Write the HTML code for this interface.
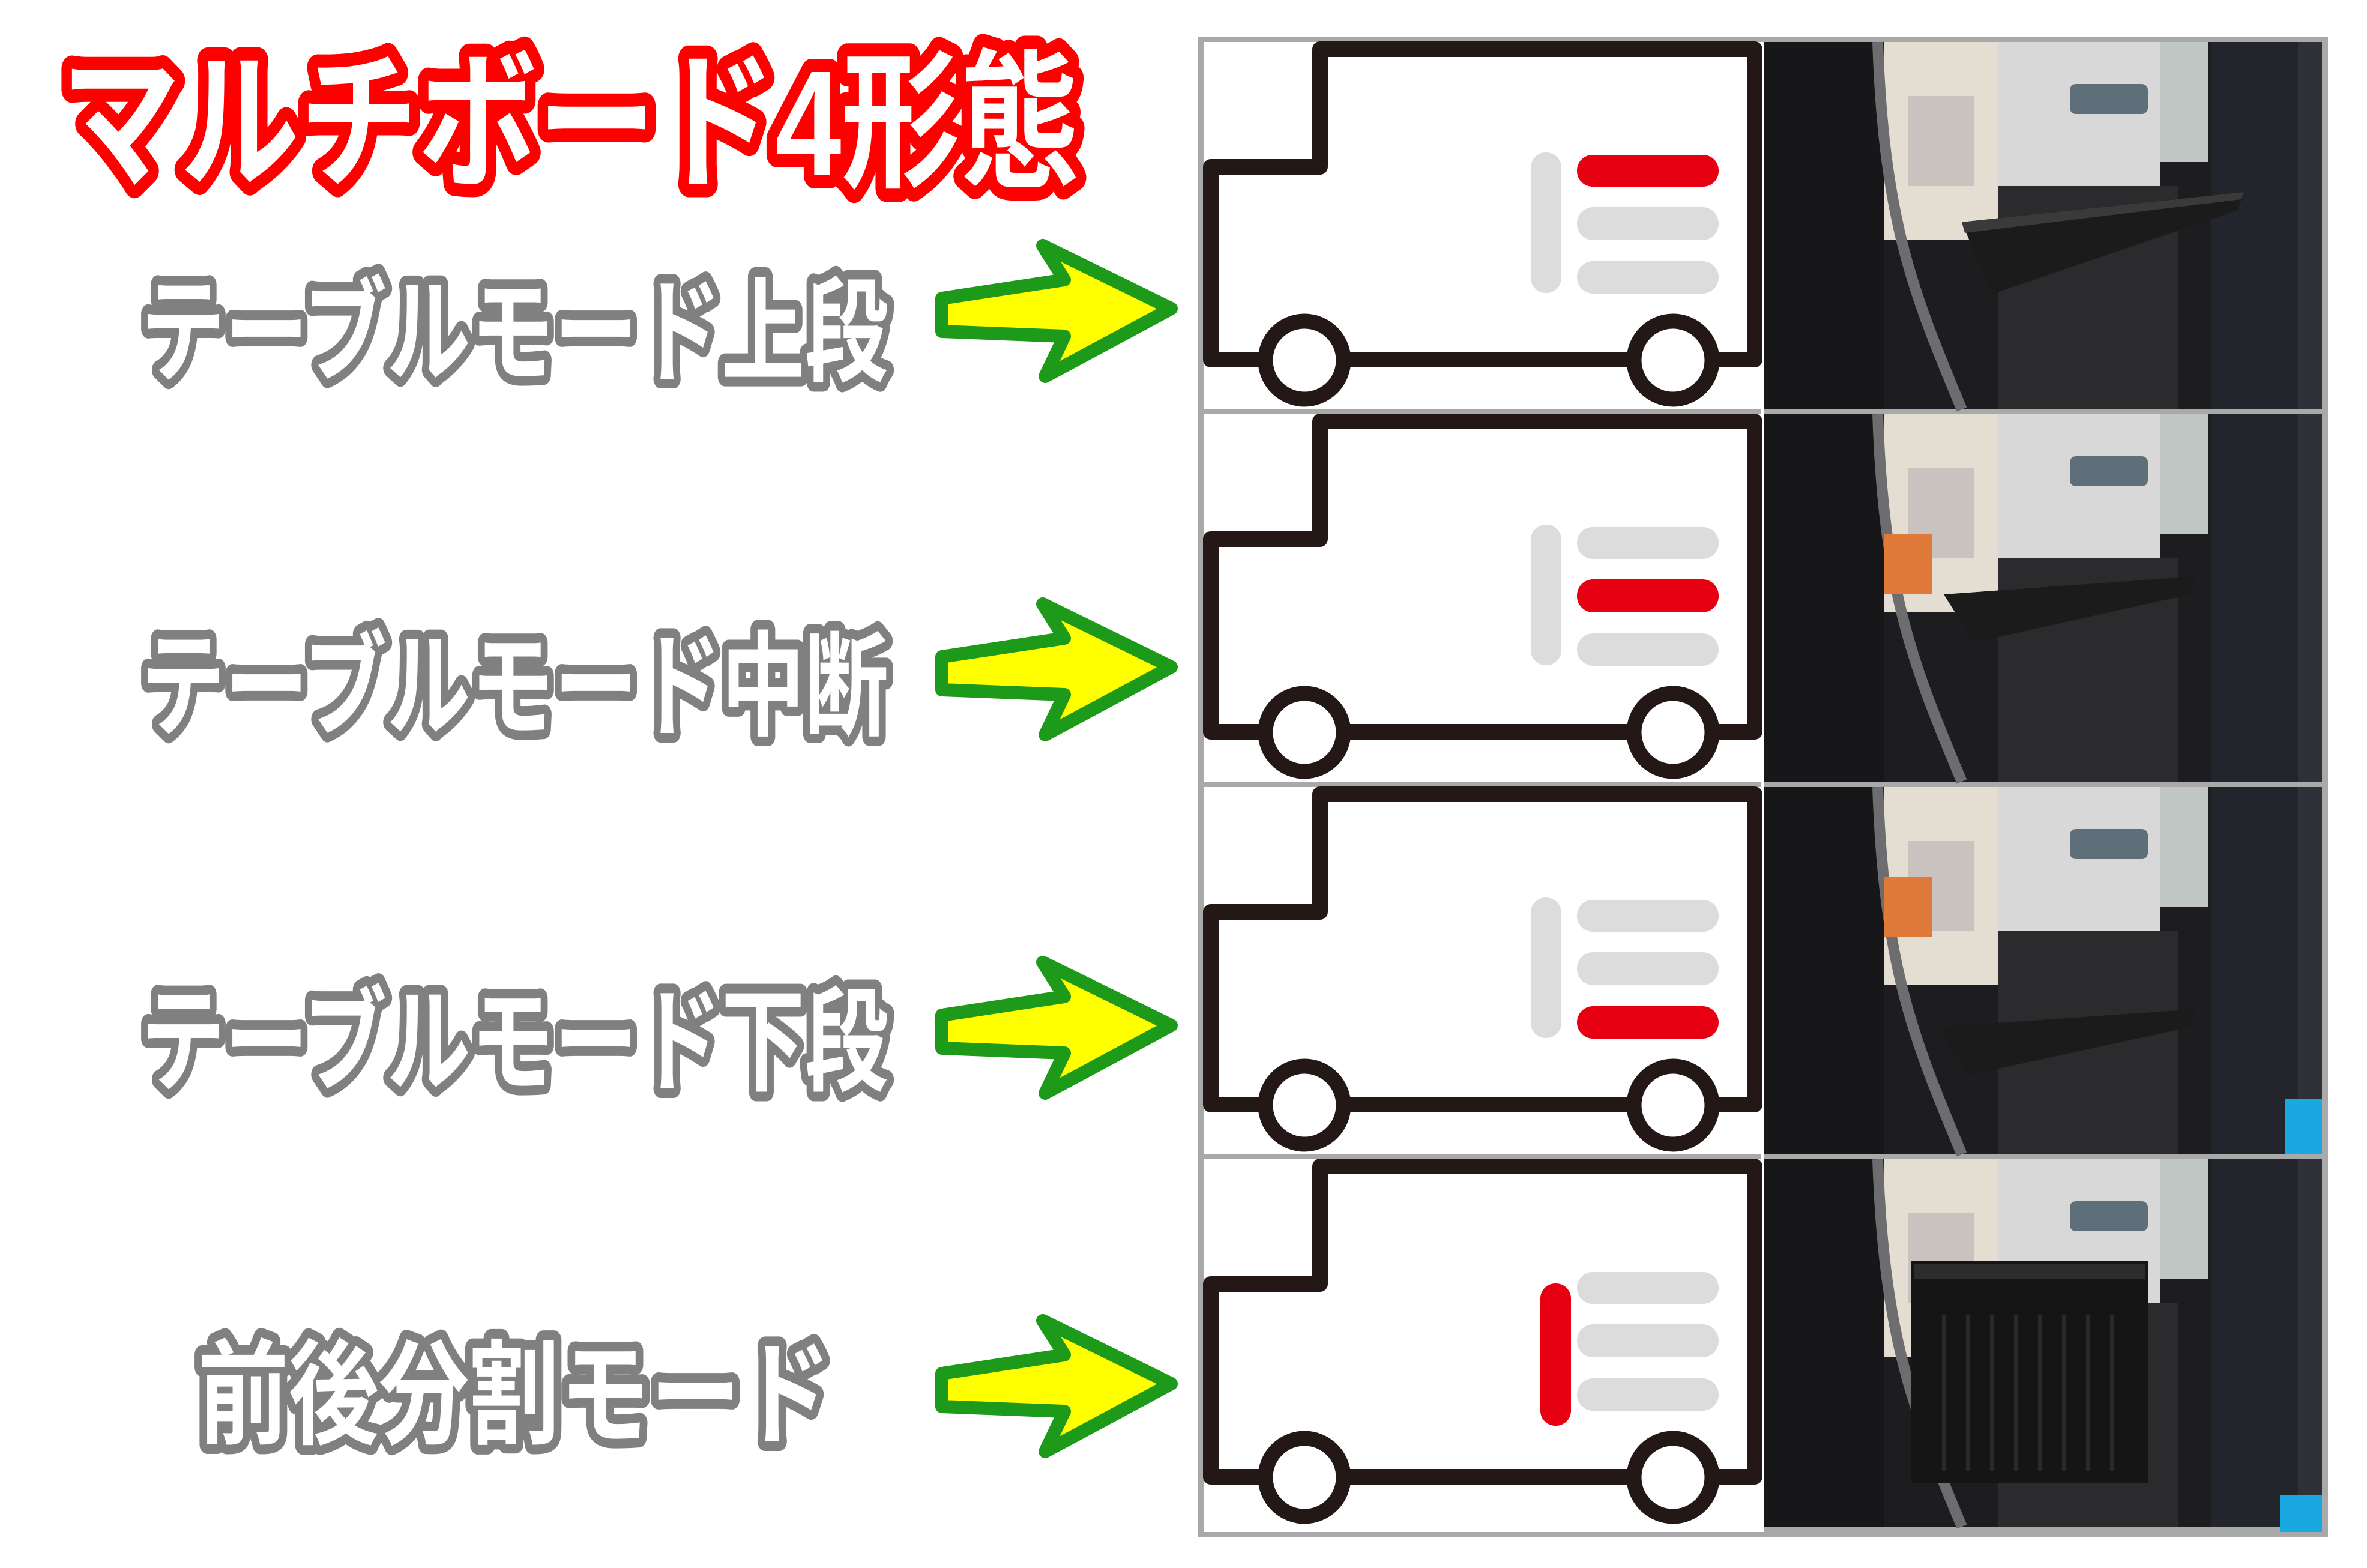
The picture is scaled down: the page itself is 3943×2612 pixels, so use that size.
<!DOCTYPE html>
<html><head><meta charset="utf-8"><style>
html,body{margin:0;padding:0;background:#fff}
svg{display:block}
text{font-family:"Liberation Sans","Noto Sans CJK JP",sans-serif;font-weight:bold;paint-order:stroke;stroke-linejoin:round}
</style></head><body>
<svg width="3943" height="2612" viewBox="0 0 3943 2612" xmlns="http://www.w3.org/2000/svg">
<defs>
<g id="truck">
  <path d="M2017,599 L2017,278 L2199,278 L2199,82 L2923,82 L2923,599 Z" fill="#fff" stroke="#231815" stroke-width="26" stroke-linejoin="round"/>
  <circle cx="2173" cy="600" r="65" fill="#fff" stroke="#231815" stroke-width="25"/>
  <circle cx="2787" cy="600" r="65" fill="#fff" stroke="#231815" stroke-width="25"/>
</g>
<g id="photo">
  <rect x="0" y="0" width="930" height="612" fill="#1d1d20"/>
  <rect x="200" y="0" width="190" height="330" fill="#e4ddd2"/>
  <rect x="240" y="90" width="110" height="150" fill="#c9c3c0"/>
  <rect x="390" y="0" width="270" height="240" fill="#d8d8d8"/>
  <rect x="510" y="70" width="130" height="50" rx="10" fill="#5f6f7a"/>
  <rect x="390" y="240" width="300" height="372" fill="#2b2b2e"/>
  <rect x="660" y="0" width="80" height="200" fill="#bfc6c4"/>
  <rect x="745" y="0" width="185" height="612" fill="#22252c"/>
  <rect x="890" y="0" width="40" height="612" fill="#2e3138"/>
  <rect x="0" y="0" width="200" height="612" fill="#17171a"/>
  <path d="M190,0 C200,300 250,420 330,612" stroke="#6d6d70" stroke-width="18" fill="none"/>
</g>
</defs>

<text x="102" y="292" font-size="250" textLength="1696" lengthAdjust="spacingAndGlyphs" fill="#fff" stroke="#ff0000" stroke-width="44">マルチボード4形態</text>

<g fill="#fff" stroke="#808080" stroke-width="32" font-size="190">
<text x="235" y="620" textLength="1245" lengthAdjust="spacingAndGlyphs">テーブルモード上段</text>
<text x="235" y="1210" textLength="1245" lengthAdjust="spacingAndGlyphs">テーブルモード中断</text>
<text x="235" y="1802" textLength="1245" lengthAdjust="spacingAndGlyphs">テーブルモード下段</text>
<text x="330" y="2390" textLength="1054" lengthAdjust="spacingAndGlyphs">前後分割モード</text>
</g>

<g id="arr">
<polygon points="1569,497 1773,466 1737,409 1951,514 1741,627 1773,560 1569,552" fill="#ffff00" stroke="#1e9a1a" stroke-width="22" stroke-linejoin="round"/>
</g>
<use href="#arr" y="597"/>
<use href="#arr" y="1194"/>
<use href="#arr" y="1791"/>

<rect x="1996" y="61" width="1882" height="2500" fill="#a9a9a9"/>
<g>
  <rect x="2005" y="70" width="928" height="612" fill="#fff"/>
  <rect x="2005" y="690" width="928" height="612" fill="#fff"/>
  <rect x="2005" y="1311" width="928" height="612" fill="#fff"/>
  <rect x="2005" y="1931" width="928" height="621" fill="#fff"/>
</g>
<rect x="2933" y="70" width="5" height="2482" fill="#fff"/>

<use href="#truck"/>
<use href="#truck" y="620"/>
<use href="#truck" y="1241"/>
<use href="#truck" y="1861"/>

<g fill="#dcdcdc">
  <rect x="2550" y="254" width="51" height="234" rx="25"/>
  <rect x="2627" y="345" width="236" height="55" rx="27"/>
  <rect x="2627" y="435" width="236" height="54" rx="27"/>
  <rect x="2550" y="874" width="51" height="234" rx="25"/>
  <rect x="2627" y="878" width="236" height="53" rx="26"/>
  <rect x="2627" y="1055" width="236" height="54" rx="27"/>
  <rect x="2550" y="1495" width="51" height="234" rx="25"/>
  <rect x="2627" y="1499" width="236" height="53" rx="26"/>
  <rect x="2627" y="1586" width="236" height="55" rx="27"/>
  <rect x="2627" y="2119" width="236" height="53" rx="26"/>
  <rect x="2627" y="2206" width="236" height="55" rx="27"/>
  <rect x="2627" y="2296" width="236" height="54" rx="27"/>
</g>
<g fill="#e60012">
  <rect x="2627" y="258" width="236" height="53" rx="26"/>
  <rect x="2627" y="965" width="236" height="55" rx="27"/>
  <rect x="2627" y="1676" width="236" height="54" rx="27"/>
  <rect x="2566" y="2138" width="51" height="237" rx="25"/>
</g>

<g transform="translate(2938,70)"><use href="#photo"/>
  <polygon points="330,300 800,250 790,280 380,420" fill="#1b1b1b"/>
  <polygon points="330,300 800,250 795,262 335,318" fill="#3a3a3a"/>
</g>
<g transform="translate(2938,690)"><use href="#photo"/>
  <rect x="200" y="200" width="80" height="100" fill="#e07a3a"/>
  <polygon points="300,300 720,270 710,300 350,380" fill="#1b1b1b"/>
</g>
<g transform="translate(2938,1311)"><use href="#photo"/>
  <rect x="200" y="150" width="80" height="100" fill="#e07a3a"/>
  <polygon points="290,400 720,370 710,400 340,480" fill="#1b1b1b"/>
  <rect x="868" y="520" width="62" height="92" fill="#1aa8e0"/>
</g>
<g transform="translate(2938,1931)"><use href="#photo"/>
  <rect x="245" y="170" width="395" height="370" fill="#151515"/>
  <rect x="250" y="175" width="385" height="25" fill="#2c2c2c"/>
  <g stroke="#2a2a2a" stroke-width="6">
    <line x1="300" y1="260" x2="300" y2="520"/><line x1="340" y1="260" x2="340" y2="520"/>
    <line x1="380" y1="260" x2="380" y2="520"/><line x1="420" y1="260" x2="420" y2="520"/>
    <line x1="460" y1="260" x2="460" y2="520"/><line x1="500" y1="260" x2="500" y2="520"/>
    <line x1="540" y1="260" x2="540" y2="520"/><line x1="580" y1="260" x2="580" y2="520"/>
  </g>
  <rect x="860" y="560" width="70" height="61" fill="#1aa8e0"/>
</g>
</svg>
</body></html>
